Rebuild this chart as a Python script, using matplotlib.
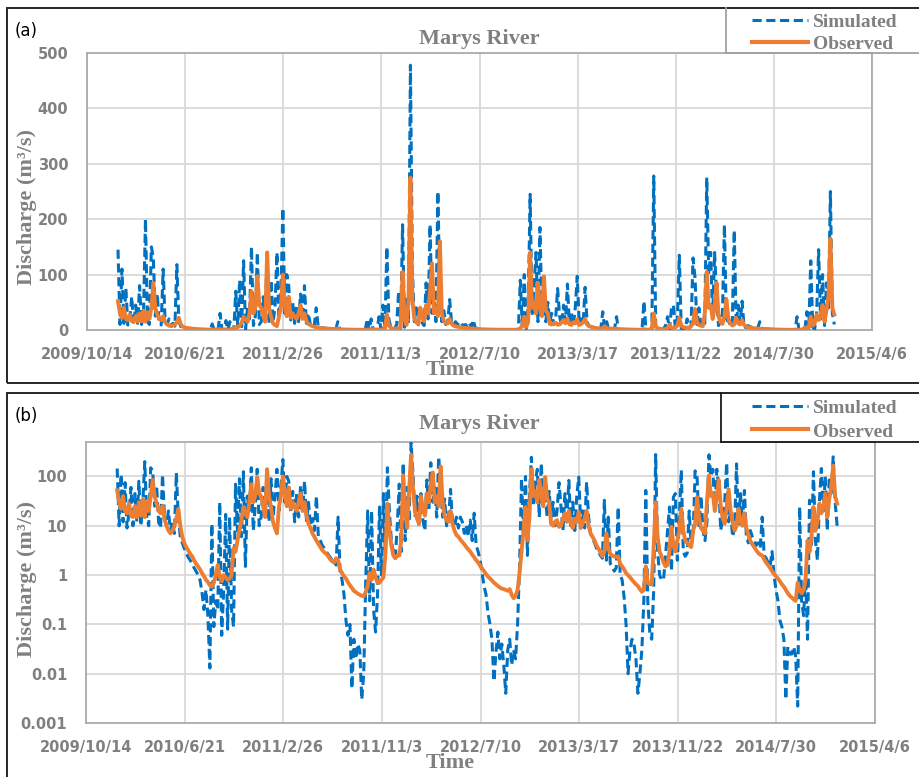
import matplotlib
matplotlib.use("Agg")
import matplotlib.pyplot as plt
from matplotlib.lines import Line2D
from matplotlib.patches import Rectangle
from matplotlib.ticker import NullLocator
from datetime import datetime
import pandas as pd

start_date = "2010-01-01"
step_days = 5

obs_2010 = [52, 30, 22, 40, 20, 18, 28, 16, 15, 25,
            15, 30, 16, 35, 15, 32, 20, 40, 85, 40,
            28, 20, 18, 25, 14, 10, 8, 7, 8, 10,
            14, 22, 10, 6, 4.5, 3.7, 3.2, 2.7, 2.4, 2.0,
            1.7, 1.5, 1.3, 1.1, 0.95, 0.8, 0.72, 0.62, 0.58, 0.7,
            1.0, 1.6, 0.9, 0.75, 1.0, 0.9, 0.8, 0.85, 1.0, 3.5,
            3.0, 5, 8, 13, 24, 18, 15, 30, 70, 30,
            40, 97, 45]
sim_2010 = [145, 10, 110, 12, 75, 9, 18, 60, 10, 45,
            12, 80, 10, 30, 200, 15, 10, 150, 130, 25,
            65, 12, 9, 110, 15, 10, 20, 8, 12, 7,
            118, 15, 6, 4.5, 3.5, 2.8, 2.3, 2.0, 1.7, 1.4,
            1.2, 1.0, 0.8, 0.45, 0.2, 0.5, 0.15, 0.013, 11, 0.09,
            0.3, 0.2, 30, 0.06, 0.5, 17, 0.08, 15, 0.2, 0.09,
            70, 8, 90, 6, 125, 1.5, 40, 20, 150, 8,
            25, 140, 10]

obs_2011 = [40, 25, 15, 140, 40, 24, 12, 9, 7, 24,
            40, 100, 45, 25, 60, 22, 30, 24, 20, 30,
            45, 20, 30, 16, 11, 9, 7, 6, 5, 4.3,
            3.7, 3.2, 2.9, 2.7, 2.4, 2.1, 1.9, 1.8, 2.2, 2.0,
            1.3, 1.1, 0.95, 0.85, 0.72, 0.62, 0.55, 0.48, 0.45, 0.42,
            0.4, 0.38, 0.37, 0.45, 0.6, 1.1, 0.8, 1.3, 0.9, 0.7,
            0.7, 0.8, 0.9, 2.7, 28, 8, 4, 2.5, 2.2, 2.5,
            2.5, 5, 105]
sim_2011 = [15, 60, 20, 140, 12, 90, 15, 40, 140, 20,
            60, 220, 30, 100, 80, 18, 50, 12, 45, 15,
            65, 20, 80, 12, 30, 10, 14, 8, 40, 6,
            5, 4, 3.5, 3, 2.6, 2.3, 2, 1.8, 1.6, 15,
            1.2, 0.8, 0.4, 0.12, 0.06, 0.1, 0.005, 0.05, 0.02, 0.04,
            0.03, 0.003, 0.01, 0.7, 20, 0.3, 20, 0.2, 0.07, 0.4,
            24, 1.0, 45, 2.5, 150, 20, 5, 3, 2.2, 10,
            70, 3, 190]

obs_2012 = [20, 9, 50, 275, 55, 20, 14, 11, 40, 22,
            16, 45, 30, 70, 120, 30, 40, 25, 160, 30,
            16, 13, 12, 20, 11, 8, 6.5, 6, 5.2, 4.7,
            4.2, 3.7, 3.3, 3.0, 2.6, 2.3, 2.0, 1.8, 1.55, 1.35,
            1.2, 1.05, 0.93, 0.85, 0.78, 0.7, 0.65, 0.6, 0.56, 0.53,
            0.52, 0.5, 0.48, 0.52, 0.4, 0.34, 0.38, 0.5, 1.1, 3,
            8, 24, 5, 15, 140, 40, 50, 30, 85, 40,
            25, 97, 35]
sim_2012 = [5, 60, 12, 478, 110, 15, 40, 9.5, 45, 13,
            8, 85, 20, 190, 30, 60, 15, 250, 60, 15,
            35, 10, 14, 55, 12, 10, 15, 9, 15, 12,
            7, 10, 6, 13, 5, 18, 4, 3, 2, 1.1,
            0.6, 0.4, 0.17, 0.1, 0.05, 0.007, 0.026, 0.07, 0.02, 0.04,
            0.015, 0.004, 0.03, 0.05, 0.015, 0.03, 0.02, 0.1, 1.5, 90,
            6, 100, 2.5, 40, 245, 25, 80, 140, 15, 185,
            30, 40, 15]

obs_2013 = [30, 11, 10, 12, 13, 9.5, 10, 14, 18, 12,
            20, 11, 9, 14, 12, 19, 9, 11, 14, 20,
            10, 7, 6, 5, 4, 3.4, 2.9, 2.4, 3, 7,
            3.5, 2.7, 2.5, 2.4, 2.3, 2.4, 1.7, 1.5, 1.3, 1.1,
            1.0, 0.9, 0.8, 0.72, 0.65, 0.6, 0.52, 0.46, 0.5, 1.5,
            0.7, 0.65, 0.65, 3.7, 30, 6, 3, 2.4, 1.8, 1.5,
            1.6, 3, 9.5, 4, 3, 5, 8, 22, 8, 5,
            4.5, 4, 3.7]
sim_2013 = [50, 15, 30, 10, 20, 75, 25, 8, 45, 15,
            83, 10, 30, 8, 40, 97, 12, 20, 9, 77,
            15, 7, 5.5, 4.5, 3.5, 3, 2.5, 2.2, 33, 2,
            15, 1.7, 1.5, 1.2, 1.4, 24, 1.0, 0.8, 0.36, 0.1,
            0.01, 0.03, 0.05, 0.04, 0.02, 0.004, 0.01, 0.03, 0.3, 52,
            0.3, 0.07, 0.05, 0.5, 278, 3, 1.0, 0.8, 0.8, 2.5,
            8, 24, 1.2, 38, 45, 2, 15, 135, 3, 2.4,
            2.8, 20, 4]

obs_2014 = [8, 11, 38, 15, 9, 8, 7, 30, 105, 40,
            45, 20, 40, 85, 25, 14, 11, 25, 55, 20,
            12, 8, 10, 22, 12, 10, 18, 9, 6.5, 5,
            4.2, 3.7, 3.2, 2.8, 2.6, 2.5, 2.1, 1.8, 1.6, 1.4,
            1.2, 1.05, 0.95, 0.85, 0.75, 0.65, 0.58, 0.5, 0.43, 0.38,
            0.35, 0.32, 0.3, 0.7, 0.5, 0.43, 0.5, 0.8, 5, 3,
            6, 24, 8, 12, 28, 18, 24, 45, 15, 35,
            60, 165, 40, 28]
sim_2014 = [6, 130, 95, 10, 40, 8, 5, 12, 275, 100,
            140, 20, 140, 60, 8, 15, 30, 190, 12, 20,
            6, 9, 180, 10, 45, 12, 52, 6, 4.5, 8,
            6, 5, 4, 4.5, 3.5, 15, 2.5, 2.2, 1.8, 1.5,
            3, 1.0, 0.5, 0.3, 0.12, 0.09, 0.05, 0.003, 0.035, 0.025,
            0.025, 0.035, 0.022, 0.0022, 24, 0.3, 0.15, 1.0, 0.05, 33,
            3.7, 125, 5, 2, 30, 145, 20, 100, 8, 85,
            40, 250, 30, 10]

tick_labels = ["2009/10/14", "2010/6/21", "2011/2/26", "2011/11/3", "2012/7/10",
               "2013/3/17", "2013/11/22", "2014/7/30", "2015/4/6"]
lin_ticks = [0, 100, 200, 300, 400, 500]
log_ticks = [0.001, 0.01, 0.1, 1, 10, 100]
log_tick_labels = ["0.001", "0.01", "0.1", "1", "10", "100"]

BLUE = "#0070C0"
ORANGE = "#ED7D31"
GRAY = "#808080"
W, H = 920, 777


def fx(px):
    return px / W


def fy(py):
    return 1 - py / H


def main():
    obs = obs_2010 + obs_2011 + obs_2012 + obs_2013 + obs_2014
    sim = sim_2010 + sim_2011 + sim_2012 + sim_2013 + sim_2014
    dates = pd.date_range(start_date, periods=len(obs), freq=f"{step_days}D")
    tick_pos = [pd.Timestamp(datetime.strptime(s, "%Y/%m/%d")) for s in tick_labels]

    fig = plt.figure(figsize=(W / 100, H / 100), dpi=100)
    ax_a = fig.add_axes([fx(87), fy(330), 785 / W, 277 / H])
    ax_b = fig.add_axes([fx(86), fy(723), 789 / W, 281 / H])

    dash = (0, (3, 1.5))
    for ax in (ax_a, ax_b):
        ax.plot(dates, sim, color=BLUE, lw=2.2, ls=dash, zorder=3)
        ax.plot(dates, obs, color=ORANGE, lw=2.8, zorder=4)
        ax.set_xlim(tick_pos[0], tick_pos[-1])
        ax.set_xticks(tick_pos)
        ax.set_xticklabels(tick_labels, fontweight="bold")
        ax.grid(True, color="#D9D9D9", lw=1.3)
        ax.set_axisbelow(True)
        for s in ax.spines.values():
            s.set_color("#A6A6A6")
            s.set_linewidth(1.2)
        ax.tick_params(length=0, labelsize=10.5, labelcolor=GRAY)
        ax.tick_params(axis="x", pad=12)
        ax.tick_params(axis="y", pad=13.5)

    # (a) linear scale
    ax_a.set_ylim(0, 500)
    ax_a.set_yticks(lin_ticks)
    ax_a.set_yticklabels([str(t) for t in lin_ticks], fontweight="bold")

    # (b) log scale
    ax_b.set_yscale("log")
    ax_b.set_ylim(0.001, 500)
    ax_b.set_yticks(log_ticks)
    ax_b.set_yticklabels(log_tick_labels, fontweight="bold")
    ax_b.yaxis.set_minor_locator(NullLocator())

    serif = dict(family="Liberation Serif", fontweight="bold", color=GRAY)

    # panel decorations: (top, bottom, title baseline, ylabel centre, time baseline,
    #                     legend left, legend bottom, sample rows, legend edge colour)
    panels = [
        ("(a)", 8, 383, 44, 207, 375, 726, 53, (20, 42), (27, 49), "#A0A0A0"),
        ("(b)", 393, 800, 429, 579, 768, 721, 442, (406, 429), (413, 437), "#1A1A1A"),
    ]
    for (tag, top, bot, tbase, ymid, tmbase, lgx, lgy,
         rows, bases, lcol) in panels:
        fig.add_artist(Rectangle((fx(7), fy(bot)), (W + 10 - 7) / W, (bot - top) / H,
                                 transform=fig.transFigure, fill=False,
                                 ec="#262626", lw=1.4, clip_on=False))
        fig.text(fx(15), fy(top + 23), tag, fontsize=12, family="DejaVu Sans",
                 va="center", color="black")
        fig.text(fx(479), fy(tbase), "Marys River", fontsize=16, ha="center",
                 va="baseline", **serif)
        fig.text(fx(27), fy(ymid), "Discharge (m³/s)", fontsize=16, rotation=90,
                 ha="center", va="center", **serif)
        fig.text(fx(450), fy(tmbase), "Time", fontsize=16, ha="center",
                 va="baseline", **serif)

        # legend box
        fig.add_artist(Line2D([fx(lgx), fx(lgx)], [fy(top), fy(lgy)], color=lcol,
                              lw=1.3, transform=fig.transFigure))
        fig.add_artist(Line2D([fx(lgx), fx(W + 5)], [fy(lgy), fy(lgy)], color=lcol,
                              lw=1.3, transform=fig.transFigure))
        fig.add_artist(Line2D([fx(752), fx(808)], [fy(rows[0])] * 2, color=BLUE,
                              lw=2.2, ls=dash, transform=fig.transFigure))
        fig.add_artist(Line2D([fx(752), fx(808)], [fy(rows[1])] * 2, color=ORANGE,
                              lw=3, transform=fig.transFigure))
        fig.text(fx(813), fy(bases[0]), "Simulated", fontsize=14, va="baseline", **serif)
        fig.text(fx(813), fy(bases[1]), "Observed", fontsize=14, va="baseline", **serif)

    fig.savefig("out.png", dpi=100)


if __name__ == "__main__":
    main()
